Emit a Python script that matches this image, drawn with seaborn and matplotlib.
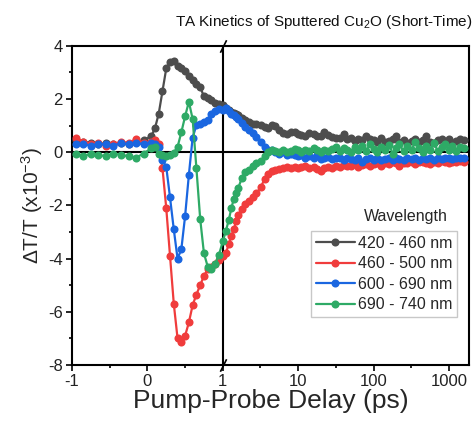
import numpy as np
import pandas as pd
import matplotlib
matplotlib.use("Agg")
import matplotlib.pyplot as plt
import seaborn as sns

# delay grid (ps): linear part up to 1 ps, then log part
delay = [-0.95, -0.85, -0.75, -0.65, -0.55, -0.45, -0.35, -0.25, -0.15, -0.05,
         0.05, 0.10, 0.15, 0.20, 0.25, 0.30, 0.35, 0.40, 0.45, 0.50,
         0.55, 0.60, 0.65, 0.70, 0.75, 0.80, 0.85, 0.90, 0.95, 1.0,
         1.1, 1.2, 1.3, 1.4, 1.5, 1.6, 1.8, 2.0, 2.2, 2.5,
         2.8, 3.2, 3.6, 4.0, 4.5, 5.0, 5.6, 6.3, 7.1, 8.0,
         9.0, 10, 11, 12.5, 14, 16, 18, 20, 22, 25,
         28, 32, 36, 40, 45, 50, 56, 63, 71, 80,
         90, 100, 110, 125, 140, 160, 180, 200, 220, 250,
         280, 320, 360, 400, 450, 500, 560, 630, 710, 800,
         900, 1000, 1100, 1250, 1400, 1600]

wl_420 = [0.45, 0.4, 0.35, 0.3, 0.35, 0.3, 0.35, 0.3, 0.4, 0.45,
          0.6, 0.9, 1.45, 2.3, 3.15, 3.38, 3.45, 3.25, 3.18, 3.05,
          2.85, 2.7, 2.58, 2.45, 2.1, 2.05, 1.95, 1.85, 1.8, 1.77,
          1.68, 1.6, 1.52, 1.48, 1.45, 1.4, 1.3, 1.2, 1.14, 1.05,
          1.08, 1.02, 0.95, 0.9, 1.02, 1.0, 0.85, 0.72, 0.7, 0.78,
          0.75, 0.68, 0.64, 0.6, 0.72, 0.7, 0.6, 0.62, 0.75, 0.65,
          0.58, 0.55, 0.53, 0.7, 0.5, 0.55, 0.42, 0.5, 0.45, 0.62,
          0.48, 0.45, 0.4, 0.52, 0.38, 0.42, 0.48, 0.6, 0.4, 0.45,
          0.35, 0.42, 0.5, 0.38, 0.45, 0.62, 0.4, 0.35, 0.45, 0.5,
          0.4, 0.48, 0.35, 0.42, 0.5, 0.45]

wl_460 = [0.55, 0.4, 0.3, 0.35, 0.25, 0.3, 0.4, 0.35, 0.5, 0.35,
          0.4, 0.45, 0.3, -0.6, -2.1, -3.9, -5.7, -7.0, -7.15, -6.9,
          -6.4, -5.75, -5.35, -5.0, -4.65, -4.4, -4.3, -4.2, -4.05, -3.9,
          -3.8, -3.45, -3.15, -2.9, -2.6, -2.35, -2.15, -1.95, -1.85, -1.7,
          -1.55, -1.3, -1.0, -0.8, -0.7, -0.68, -0.62, -0.6, -0.55, -0.6,
          -0.55, -0.58, -0.55, -0.52, -0.6, -0.55, -0.62, -0.7, -0.58, -0.55,
          -0.6, -0.5, -0.55, -0.48, -0.52, -0.5, -0.45, -0.55, -0.48, -0.45,
          -0.5, -0.45, -0.42, -0.5, -0.4, -0.45, -0.38, -0.42, -0.5, -0.4,
          -0.42, -0.36, -0.45, -0.38, -0.35, -0.4, -0.45, -0.35, -0.4, -0.33,
          -0.38, -0.42, -0.35, -0.38, -0.32, -0.35]

wl_600 = [0.3, 0.3, 0.25, 0.3, 0.3, 0.25, 0.35, 0.3, 0.35, 0.3,
          0.35, 0.3, 0.2, -0.3, -0.55, -1.7, -2.9, -4.0, -3.65, -2.4,
          -0.85, 0.55, 1.02, 1.08, 1.15, 1.22, 1.42, 1.55, 1.62, 1.6,
          1.65, 1.55, 1.45, 1.4, 1.33, 1.25, 1.1, 0.95, 0.85, 0.72,
          0.58, 0.4, 0.18, 0.1, 0.07, 0.02, -0.05, 0.0, -0.1, -0.05,
          -0.12, -0.15, -0.1, -0.2, -0.15, -0.2, -0.12, -0.25, -0.2, -0.18,
          -0.25, -0.2, -0.22, -0.28, -0.2, -0.25, -0.3, -0.22, -0.35, -0.25,
          -0.2, -0.28, -0.22, -0.3, -0.25, -0.2, -0.28, -0.22, -0.25, -0.3,
          -0.2, -0.25, -0.22, -0.28, -0.2, -0.25, -0.22, -0.28, -0.2, -0.25,
          -0.22, -0.2, -0.25, -0.22, -0.2, -0.22]

wl_690 = [-0.05, -0.15, -0.05, -0.1, -0.15, -0.05, -0.1, -0.15, -0.2, -0.05,
          0.15, 0.2, -0.05, -0.12, -0.15, -0.12, -0.02, 0.2, 0.75, 1.35,
          1.9, 1.25, -0.6, -2.5, -3.8, -4.3, -4.38, -4.2, -3.85, -3.35,
          -2.95, -2.55, -2.1, -1.75, -1.55, -1.35, -0.95, -0.75, -0.65, -0.52,
          -0.4, -0.32, -0.15, 0.0, 0.08, 0.05, 0.0, 0.1, 0.02, 0.05,
          0.12, 0.08, 0.02, 0.1, 0.05, 0.15, 0.08, 0.0, 0.1, 0.05,
          0.12, 0.2, 0.05, 0.15, 0.1, 0.0, 0.18, 0.08, 0.25, 0.05,
          0.3, 0.12, 0.0, 0.2, 0.1, 0.28, -0.05, 0.15, 0.3, 0.05,
          0.22, 0.1, 0.4, 0.15, 0.0, 0.25, 0.1, 0.35, 0.05, 0.2,
          0.3, 0.1, 0.25, 0.05, 0.2, 0.15]

labels = ["420 - 460 nm", "460 - 500 nm", "600 - 690 nm", "690 - 740 nm"]
colors = ["#4d4d4d", "#f03c3c", "#1a66e0", "#2eaa66"]

df = pd.concat([
    pd.DataFrame({"delay": delay, "dT": vals, "Wavelength": lab})
    for lab, vals in zip(labels, [wl_420, wl_460, wl_600, wl_690])
])

sns.set_theme(style="ticks")
plt.rcParams["font.family"] = ["Liberation Sans", "DejaVu Sans"]
plt.rcParams["mathtext.fontset"] = "custom"
plt.rcParams["mathtext.rm"] = "Liberation Sans"
plt.rcParams["mathtext.it"] = "Liberation Sans:italic"
plt.rcParams["axes.unicode_minus"] = False


# broken axis: linear up to 1 ps, log10 above
def fwd(x):
    x = np.asarray(x, dtype=float)
    return np.where(x <= 1, x, 1 + np.log10(np.clip(x, 1, None)))


def inv(y):
    y = np.asarray(y, dtype=float)
    return np.where(y <= 1, y, 10 ** (np.clip(y, 1, 10) - 1))


fig = plt.figure(figsize=(4.77, 4.21), dpi=100)
ax = fig.add_axes([0.151, 0.133, 0.832, 0.758])
ax.set_xscale("function", functions=(fwd, inv))

ax.axhline(0, color="black", lw=1.5, zorder=1)
ax.axvline(1, color="black", lw=1.5, zorder=1)

sns.lineplot(data=df, x="delay", y="dT", hue="Wavelength", palette=colors,
             marker="o", markersize=5.8, markeredgewidth=0, lw=1.6,
             ax=ax, zorder=3)

ax.set_xlim(-1, 1840)
ax.set_ylim(-8, 4)
ax.set_xticks([-1, 0, 1, 10, 100, 1000])
ax.set_xticklabels(["-1", "0", "1", "10", "100", "1000"])
ax.set_xticks([-0.5, 0.5, 10 ** 0.5, 10 ** 1.5, 10 ** 2.5], minor=True)
ax.set_yticks([-8, -6, -4, -2, 0, 2, 4])
ax.set_yticks([-7, -5, -3, -1, 1, 3], minor=True)
ax.tick_params(which="major", direction="out", length=4, width=1.2,
               labelsize=12, color="black", labelcolor="#222222", pad=2.5)
ax.tick_params(which="minor", direction="out", length=2.5, width=1.2,
               color="black")
for sp in ax.spines.values():
    sp.set_linewidth(1.5)
    sp.set_color("black")

# break marks at x = 1
brk = [(-1, -2), (1, 2)]
ax.plot([1, 1], [0, 1], transform=ax.get_xaxis_transform(), ls="none",
        marker=brk, markersize=9, mec="black", mew=1.2, clip_on=False,
        zorder=5)

ax.set_xlabel("Pump-Probe Delay (ps)", fontsize=19, labelpad=0)
ax.set_ylabel(r"ΔT/T (x10$^{-3}$)", fontsize=15, labelpad=2)
fig.text(0.99, 0.948, r"TA Kinetics of Sputtered Cu$_2$O (Short-Time)",
         ha="right", va="center", fontsize=11, color="#111111")

handles, _ = ax.get_legend_handles_labels()
ax.legend(handles=handles, labels=labels, loc="lower right",
          bbox_to_anchor=(0.97, 0.15), borderaxespad=0, fontsize=11.5,
          frameon=True, fancybox=False, edgecolor="#bbbbbb",
          handlelength=2.4, handletextpad=0.2, borderpad=0.3,
          labelspacing=0.35)
ax.text(0.841, 0.464, "Wavelength", transform=ax.transAxes, ha="center",
        va="center", fontsize=11.5)

fig.savefig("out.png", dpi=100)
